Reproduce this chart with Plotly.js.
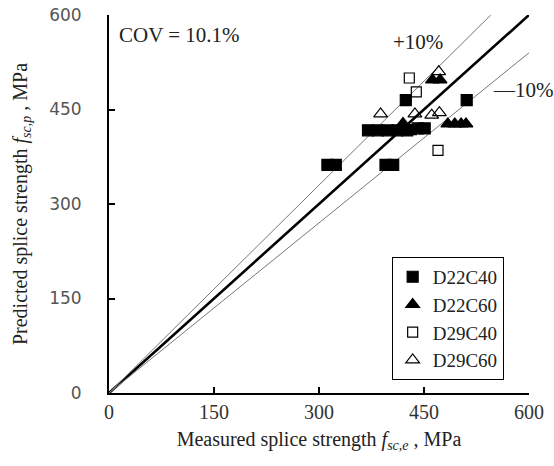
<!DOCTYPE html>
<html>
<head>
<meta charset="utf-8">
<script src="https://cdn.plot.ly/plotly-3.0.1.min.js"></script>
<style>html,body{margin:0;padding:0;background:#fff;}#chart{width:554px;height:466px;}</style>
</head>
<body>
<div id="chart"></div>
<script>
// Series values (MPa)
var d22c40_x = [312, 324, 395, 406, 370, 384, 398, 412, 426, 441, 451, 424, 511];
var d22c40_y = [362, 362, 362, 362, 417, 417, 417, 417, 417, 420, 420, 465, 465];
var d22c60_x = [462, 473, 420, 484, 494, 503, 510];
var d22c60_y = [497, 497, 428, 427, 427, 427, 427];
var d29c40_x = [429, 439, 432, 470];
var d29c40_y = [500, 478, 418, 385];
var d29c60_x = [388, 437, 461, 472, 471];
var d29c60_y = [443, 443, 441, 445, 510];
var seriesNames = ["D22C40", "D22C60", "D29C40", "D29C60"];
// Reference lines: measured = predicted, +10 %, -10 %
var refX = [0, 600];
var refRatio = [1.0, 1.1, 0.9];
var tickVals = [0, 150, 300, 450, 600];

var serif = "Liberation Serif, Times New Roman, serif";
var traces = [];
refRatio.forEach(function (r, i) {
  var xs = refX.slice(), ys = refX.map(function (v) { return v * r; });
  if (ys[1] > 600) { xs[1] = 600 / r; ys[1] = 600; }
  traces.push({
    x: xs, y: ys, mode: "lines", showlegend: false, hoverinfo: "skip",
    line: {color: i === 0 ? "#000" : "#777", width: i === 0 ? 2.6 : 1}
  });
});
var xs = [d22c40_x, d22c60_x, d29c40_x, d29c60_x];
var ys = [d22c40_y, d22c60_y, d29c40_y, d29c60_y];
var syms = ["square", "triangle-up", "square-open", "triangle-up-open"];
var sizes = [11, 12, 10, 12];
for (var k = 0; k < 4; k++) {
  traces.push({
    x: xs[k], y: ys[k], mode: "markers", name: seriesNames[k],
    marker: {symbol: syms[k], size: sizes[k], color: "#000", line: {color: "#000", width: 1.2}}
  });
}

var layout = {
  width: 554, height: 466,
  margin: {l: 109, r: 25, t: 15, b: 73},
  paper_bgcolor: "#fff", plot_bgcolor: "#fff",
  showlegend: true,
  legend: {
    x: 0.673, y: 0.36, xanchor: "left", yanchor: "top",
    bgcolor: "#fff", bordercolor: "#000", borderwidth: 1,
    font: {family: serif, size: 19, color: "#222"},
    itemwidth: 30, tracegroupgap: 0
  },
  xaxis: {
    range: [0, 600], tickvals: tickVals, ticktext: tickVals.map(String),
    showgrid: false, zeroline: false, showline: true, linecolor: "#000", linewidth: 2,
    ticks: "inside", ticklen: 6, tickwidth: 2, tickcolor: "#000",
    tickfont: {family: serif, size: 20, color: "#333"},
    title: {text: "Measured splice strength <i>f</i><sub><i>sc,e</i></sub> , MPa", font: {family: serif, size: 20, color: "#222"}, standoff: 10}
  },
  yaxis: {
    range: [0, 600], tickvals: tickVals, ticktext: tickVals.map(String),
    showgrid: false, zeroline: false, showline: true, linecolor: "#000", linewidth: 2,
    ticks: "inside", ticklen: 6, tickwidth: 2, tickcolor: "#000",
    ticklabelstandoff: 22,
    tickfont: {family: "DejaVu Sans, sans-serif", size: 17, color: "#555"},
    title: {text: "Predicted splice strength <i>f</i><sub><i>sc,p</i></sub> , MPa", font: {family: serif, size: 20, color: "#222"}, standoff: 16}
  },
  annotations: [
    {xref: "paper", yref: "paper", x: 0.02, y: 0.985, xanchor: "left", yanchor: "top", showarrow: false,
     text: "COV = 10.1%", font: {family: serif, size: 21, color: "#222"}},
    {xref: "x", yref: "y", x: 442, y: 557, xanchor: "center", yanchor: "middle", showarrow: false,
     text: "+10%", font: {family: serif, size: 21, color: "#222"}},
    {xref: "x", yref: "y", x: 545, y: 481, xanchor: "left", yanchor: "middle", showarrow: false,
     text: "—10%", font: {family: serif, size: 21, color: "#222"}}
  ]
};
Plotly.newPlot("chart", traces, layout, {staticPlot: true, displayModeBar: false});
</script>
</body>
</html>
